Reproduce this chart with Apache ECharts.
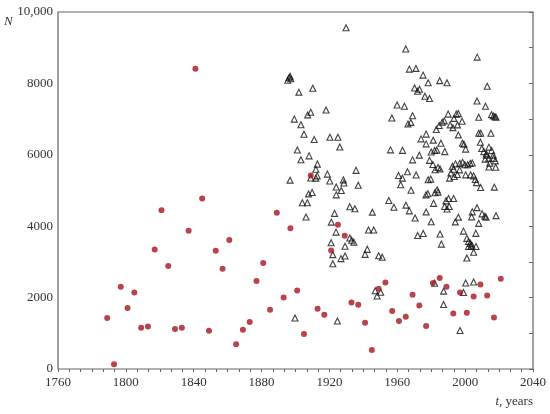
<!DOCTYPE html>
<html>
<head>
<meta charset="utf-8">
<script src="https://cdn.jsdelivr.net/npm/echarts@6/dist/echarts.min.js"></script>
<style>
  html, body { margin: 0; padding: 0; background: #fff; }
  #chart { width: 550px; height: 414px; }
</style>
</head>
<body>
<div id="chart"></div>
<script>
// axis ticks
var xTicks = [1760, 1800, 1840, 1880, 1920, 1960, 2000, 2040];
var yTicks = [0, 2000, 4000, 6000, 8000, 10000];

// red dots: year, N
var redYears = [1789, 1793, 1797, 1801, 1805, 1809, 1813, 1817, 1821, 1825, 1829, 1833, 1837, 1841, 1845,
    1849, 1853, 1857, 1861, 1865, 1869, 1873, 1877, 1881, 1885, 1889, 1893, 1897, 1901, 1905, 1909,
    1913, 1917, 1921, 1925, 1929, 1933, 1937, 1941, 1945, 1949, 1953, 1957, 1961, 1965, 1969, 1973,
    1977, 1981, 1985, 1989, 1993, 1997, 2001, 2005, 2009, 2013, 2017, 2021];
var redCounts = [1427, 130, 2303, 1707, 2144, 1156, 1193, 3348, 4450, 2883, 1120, 1156, 3870, 8413, 4775,
    1072, 3310, 2807, 3610, 690, 1100, 1315, 2463, 2967, 1660, 4375, 2004, 3946, 2200, 980, 5418,
    1688, 1520, 3320, 4040, 3730, 1865, 1800, 1296, 530, 2247, 2424, 1623, 1343, 1464, 2080, 1780,
    1203, 2407, 2547, 2303, 1556, 2144, 1576, 2032, 2368, 2060, 1444, 2527];

// open triangles, before 1955: [year, N]
var triEarly = [
    [1895.4, 8090], [1896.2, 8160], [1896.8, 8200], [1897.2, 8130],
    [1929.8, 9560],
    [1902, 7755], [1910.2, 7865], [1899.3, 7000], [1907.2, 7117], [1909, 7193], [1918, 7257],
    [1903.2, 6840], [1905, 6577], [1911, 6430], [1920.3, 6490], [1925, 6490], [1926.1, 6220],
    [1901.1, 6135], [1908, 5970], [1903.2, 5860], [1912.9, 5740], [1912, 5597],
    [1909, 5350], [1912, 5346], [1912.8, 5410], [1918.8, 5460], [1896.8, 5290], [1920.2, 5265],
    [1928.2, 5298], [1928.5, 5210], [1935.7, 5565], [1937, 5145], [1924, 5098], [1927, 5000], [1924, 4878],
    [1907.7, 4905], [1909.8, 4945], [1904, 4658], [1907, 4658], [1932, 4545], [1935, 4490], [1945.3, 4394],
    [1906.2, 4258], [1923, 4360], [1921.1, 4114], [1943, 3895], [1946.1, 3895], [1923.9, 3834],
    [1921, 3535], [1929.2, 3437], [1932, 3670], [1933.1, 3605], [1934.4, 3554], [1942.3, 3352], [1941, 3212],
    [1922, 3203], [1922, 2947], [1929.2, 3167], [1926.8, 3092], [1949, 3171], [1951.1, 3130],
    [1947, 2191], [1950.2, 2150], [1948.1, 2043], [1899.7, 1427], [1924.7, 1343]
];

// open triangles, 1955 onwards
var triLate = [
    [1955, 4719], [1958, 4530], [1956, 6138], [1956.8, 7030], [1965, 8964], [2007.1, 8736],
    [1967.1, 8400], [1971, 8420], [1975.2, 8232], [1978.2, 8017], [1985, 8077], [1989.3, 8017], [2013, 7920],
    [1970.2, 7873], [1971.9, 7779], [1973.1, 7836], [1976.3, 7641], [1979, 7579], [2007, 7505], [2012, 7360],
    [1959.9, 7394], [1964.2, 7360], [1969, 7093], [1966.3, 6865], [1968, 6907],
    [1990, 7140], [1993.4, 7020], [1994.8, 7140], [1996, 7154], [1998.2, 6940], [1995.5, 6837],
    [1983, 6710], [1984.7, 6820], [1986.5, 6910], [1987.7, 6950], [1991.2, 6837], [1992.8, 6760],
    [2008, 7052], [2015.5, 7125], [2016.7, 7090], [2017.6, 7065], [2018.2, 7050],
    [1996, 6557], [2008, 6604], [2009.2, 6604], [2015.2, 6604],
    [1977, 6580], [1974, 6446], [1977, 6306], [1981.2, 6410], [1985.7, 6325],
    [1980, 6080], [1982, 6120], [1983.3, 6130], [1988, 6090], [1963.1, 6125],
    [1998.4, 6325], [1999.3, 6297], [2000.3, 6160],
    [2009, 6353], [2009.8, 6175], [2011, 6090], [2012.5, 6030], [2014, 6215], [2015.6, 6118],
    [2013.9, 5905], [2016.8, 5900], [2011.8, 5880], [2014.5, 5765], [2017.8, 5830], [2014, 5660],
    [2018, 5650], [2016.6, 5990], [2012.5, 5990],
    [1973, 5990], [1969, 5858], [1979, 5845],
    [1981, 5730], [1982.3, 5580], [1984, 5645], [1985.2, 5605],
    [1994.3, 5746], [1996.8, 5760], [1998.5, 5790], [1999.8, 5720], [2001.5, 5720], [2003, 5760], [2004.2, 5770],
    [1992.5, 5680], [1993.2, 5597], [1991.6, 5490], [1995.4, 5450], [1996.7, 5578], [1990.8, 5346], [1993.6, 5391],
    [1966, 5527], [1971.1, 5433], [1960.7, 5420], [1963, 5346], [1962, 5162], [1968.1, 5005],
    [1978.2, 5300], [1979.7, 5320],
    [2000.3, 5438], [2003.2, 5438], [2005, 5410], [2006, 5310], [2006.7, 5220], [2009.1, 5082], [2017.2, 5094],
    [1983.5, 5022], [1984, 4954], [1982.2, 4935], [1976.9, 4878], [1978, 4910],
    [1988.7, 4710], [1990.2, 4775], [1993.2, 4775], [1987.9, 4551], [1989.3, 4480], [1990.6, 4550],
    [1981.4, 4640], [2007, 4520],
    [1965.1, 4590], [1967.1, 4430], [1970.5, 4230], [1977, 4400], [1980, 4123], [1972, 3740],
    [1975.3, 3795], [1985.2, 3783], [1986, 3499],
    [2004.2, 4402], [2003.8, 4262], [2010, 4346], [2011.6, 4282], [2012.3, 4254], [2018.2, 4295],
    [1996, 4254], [1994.2, 4120], [2008, 4080],
    [1999, 3862], [2006.3, 3800], [2001, 3660], [2002, 3575], [2003.1, 3520], [2004, 3470],
    [2002, 3431], [2003.4, 3431], [2006.4, 3431],
    [2005, 3270], [2001, 3110],
    [2000.3, 2407], [2005, 2435], [1987.3, 2180], [1999, 2144], [1987.3, 1808], [1997, 1080], [1982, 2400]
];

var font = "'Liberation Serif', 'Times New Roman', serif";

var redData = redYears.map(function (y, i) { return [y, redCounts[i]]; });
var triData = triEarly.concat(triLate);

var chart = echarts.init(document.getElementById('chart'));

var option = {
    animation: false,
    backgroundColor: '#fff',
    grid: {
        left: 58, right: 17, top: 12, bottom: 45,
        show: true, borderColor: '#666', borderWidth: 1.2, backgroundColor: 'transparent'
    },
    graphic: [
        { type: 'text', left: 4, top: 15,
          style: { text: 'N', font: 'italic 13px ' + font, fill: '#333' } },
        { type: 'text', right: 17, top: 395,
          style: { rich: { i: { fontStyle: 'italic', fontFamily: font, fontSize: 13, fill: '#333' },
                           r: { fontFamily: font, fontSize: 13, fill: '#333' } },
                   text: '{i|t}{r|, years}' } }
    ],
    xAxis: [
        {
            type: 'value', min: xTicks[0], max: xTicks[xTicks.length - 1], interval: 40,
            axisLine: { show: false }, axisTick: { show: false }, splitLine: { show: false },
            axisLabel: { color: '#333', fontFamily: font, fontSize: 13, margin: 7,
                         formatter: function (v) { return String(v); } }
        },
        {
            type: 'value', position: 'top', min: 1760, max: 2040, interval: 20,
            axisLine: { show: false }, splitLine: { show: false }, axisLabel: { show: false },
            axisTick: { show: true, inside: true, length: 3, lineStyle: { color: '#666' } },
            minorTick: { show: true, splitNumber: 3, length: 3, lineStyle: { color: '#666' } }
        }
    ],
    yAxis: [
        {
            type: 'value', min: yTicks[0], max: yTicks[yTicks.length - 1], interval: 2000,
            axisLine: { show: false }, axisTick: { show: false }, splitLine: { show: false },
            axisLabel: {
                color: '#333', fontFamily: font, fontSize: 13, margin: 5,
                formatter: function (v) { return v === 10000 ? '10,000' : String(v); }
            }
        },
        {
            type: 'value', position: 'right', min: 0, max: 10000, interval: 1000,
            axisLine: { show: false }, splitLine: { show: false }, axisLabel: { show: false },
            axisTick: { show: true, inside: true, length: 4, lineStyle: { color: '#666' } }
        }
    ],
    series: [
        {
            name: 'triangles', type: 'scatter', data: triData,
            symbol: 'triangle', symbolSize: [6, 6],
            itemStyle: { color: 'rgba(0,0,0,0)', borderColor: '#111', borderWidth: 1.1 }
        },
        {
            name: 'dots', type: 'scatter', data: redData,
            symbol: 'circle', symbolSize: 6,
            itemStyle: { color: '#a8141c' }
        }
    ]
};

chart.setOption(option);
</script>
</body>
</html>
